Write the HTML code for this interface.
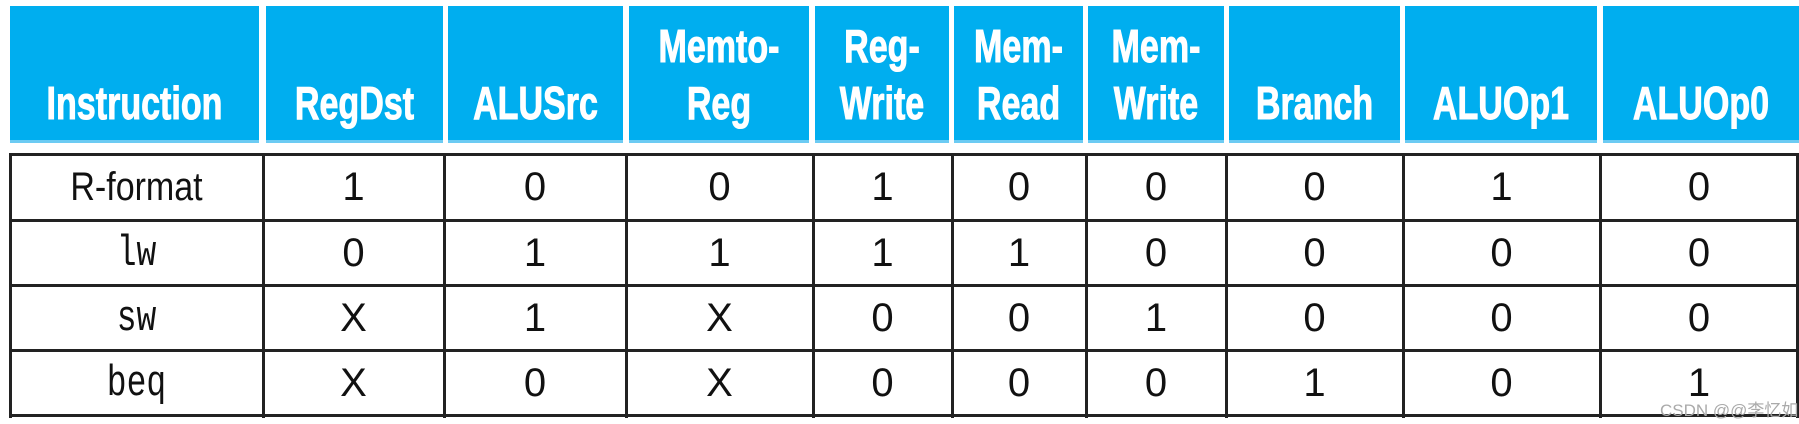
<!DOCTYPE html>
<html><head><meta charset="utf-8"><style>
body{margin:0;width:1799px;height:424px;background:#fff;position:relative;overflow:hidden}
.h{position:absolute;top:6px;height:137px;background:#00aeef;border-bottom:3px solid #6ccbf3;box-sizing:border-box}
.h span{position:absolute;left:0;right:0;bottom:8px;text-align:center;color:#fff;font:bold 46px/57px "Liberation Sans Narrow","Liberation Sans",sans-serif;transform:scaleX(0.74);-webkit-text-stroke:1px #fff}
.v{position:absolute;top:153px;width:3px;height:265px;background:#222}
.r{position:absolute;left:10px;width:1790px;height:3px;background:#222}
.c{position:absolute;height:65px;display:flex;align-items:center;justify-content:center;font:40px "Liberation Sans Narrow","Liberation Sans",sans-serif;color:#111}
.m{font-family:"Liberation Mono",monospace;font-size:44px;transform:scaleX(0.75)}
.wm{position:absolute;left:1660px;top:396px;font:17px "Liberation Sans","Noto Sans CJK SC",sans-serif;color:#aaa}
</style></head><body>
<div class="h" style="left:10px;width:249px"><span>Instruction</span></div>
<div class="h" style="left:266px;width:177px"><span>RegDst</span></div>
<div class="h" style="left:448px;width:175px"><span>ALUSrc</span></div>
<div class="h" style="left:629px;width:180px"><span>Memto-<br>Reg</span></div>
<div class="h" style="left:815px;width:134px"><span>Reg-<br>Write</span></div>
<div class="h" style="left:954px;width:129px"><span>Mem-<br>Read</span></div>
<div class="h" style="left:1088px;width:136px"><span>Mem-<br>Write</span></div>
<div class="h" style="left:1229px;width:171px"><span>Branch</span></div>
<div class="h" style="left:1405px;width:192px"><span>ALUOp1</span></div>
<div class="h" style="left:1603px;width:196px"><span>ALUOp0</span></div>

<div class="r" style="top:153px"></div>
<div class="r" style="top:219px"></div>
<div class="r" style="top:284px"></div>
<div class="r" style="top:349px"></div>
<div class="r" style="top:414px"></div>
<div class="v" style="left:9px"></div>
<div class="v" style="left:262px"></div>
<div class="v" style="left:443px"></div>
<div class="v" style="left:625px"></div>
<div class="v" style="left:812px"></div>
<div class="v" style="left:951px"></div>
<div class="v" style="left:1085px"></div>
<div class="v" style="left:1225px"></div>
<div class="v" style="left:1402px"></div>
<div class="v" style="left:1599px"></div>
<div class="v" style="left:1796px"></div>

<div id="cells"></div>
<script>
var xs=[10,263,444,626,813,952,1086,1226,1403,1600,1798];
var ys=[155,221,286,351];
var rows=[["R-format","1","0","0","1","0","0","0","1","0"],["lw","0","1","1","1","1","0","0","0","0"],["sw","X","1","X","0","0","1","0","0","0"],["beq","X","0","X","0","0","0","1","0","1"]];
var h="";
rows.forEach(function(r,i){r.forEach(function(t,j){
var cls=(j==0&&i>0)?'c m':'c';
var st=(j==0&&i==0)?'transform:scaleX(0.85);':'';
h+='<div class="'+cls+'" style="left:'+xs[j]+'px;width:'+(xs[j+1]-xs[j])+'px;top:'+ys[i]+'px;'+st+'">'+t+'</div>';});});
document.getElementById("cells").innerHTML=h;
</script>
<div class="wm">CSDN @@李忆如</div>
</body></html>
